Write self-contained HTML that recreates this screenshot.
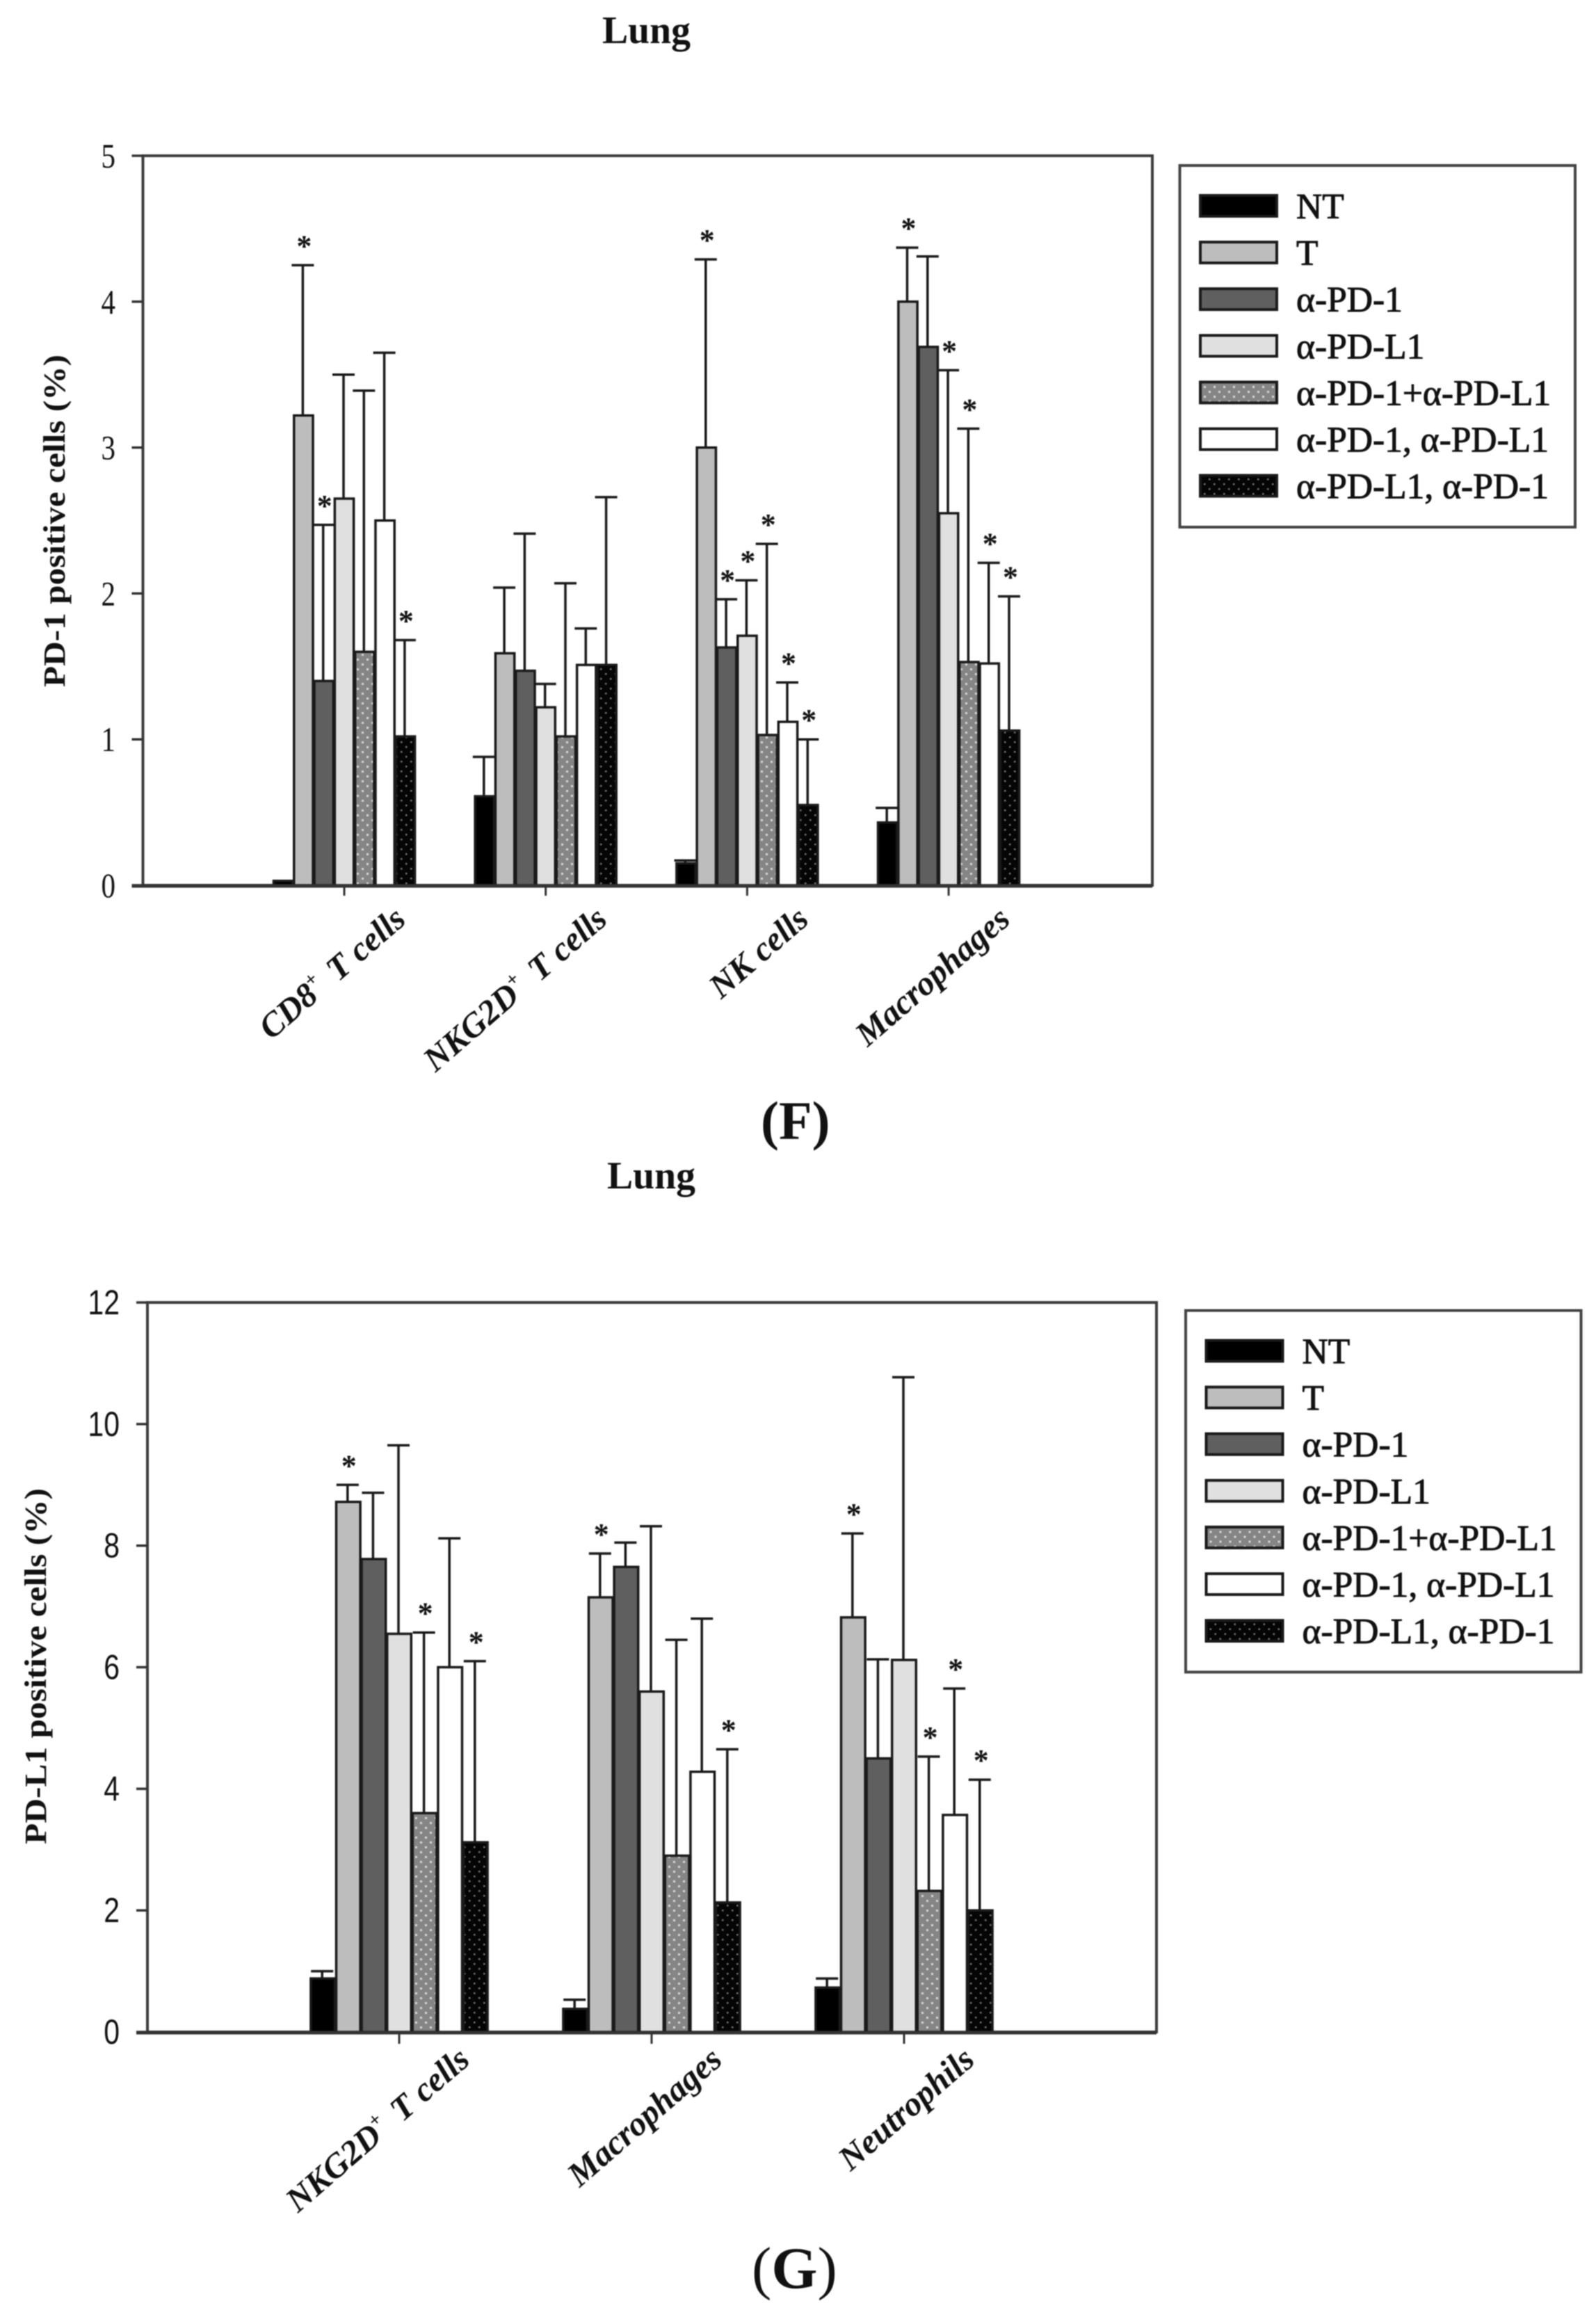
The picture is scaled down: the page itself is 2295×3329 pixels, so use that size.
<!DOCTYPE html>
<html>
<head>
<meta charset="utf-8">
<title>Lung PD-1 and PD-L1 positive cells</title>
<style>
html,body{margin:0;padding:0;background:#fff;}
svg{display:block;filter:blur(0.7px);}
text{fill:#111;}
.serif{font-family:"Liberation Serif",serif;}
.sans{font-family:"Liberation Sans",sans-serif;}
</style>
</head>
<body>
<svg id="figure" xmlns="http://www.w3.org/2000/svg" width="2295" height="3329" viewBox="0 0 2295 3329">
<defs>
<pattern id="dotsGrey" width="14" height="14" patternUnits="userSpaceOnUse">
<rect width="14" height="14" fill="#858585"/>
<rect x="2" y="2" width="3" height="3" fill="#d8d8d8"/>
<rect x="9" y="9" width="3" height="3" fill="#d8d8d8"/>
</pattern>
<pattern id="dotsBlack" width="14" height="14" patternUnits="userSpaceOnUse">
<rect width="14" height="14" fill="#050505"/>
<rect x="2" y="2" width="2.5" height="2.5" fill="#777"/>
<rect x="9" y="9" width="2.5" height="2.5" fill="#777"/>
</pattern>
</defs>
<text class="serif" x="866" y="62" font-size="56" font-weight="bold" textLength="127" lengthAdjust="spacingAndGlyphs">Lung</text>
<text class="serif" x="1094" y="1638" font-size="78" font-weight="bold">(F)</text>
<text class="serif" x="873" y="1709" font-size="56" font-weight="bold" textLength="127" lengthAdjust="spacingAndGlyphs">Lung</text>
<text class="serif" x="1081" y="3290" font-size="85">(<tspan font-weight="bold">G</tspan>)</text>
<text class="serif" transform="translate(93,749) rotate(-90)" text-anchor="middle" font-size="44" font-weight="bold" textLength="478" lengthAdjust="spacingAndGlyphs">PD-1 positive cells (%)</text>
<text class="serif" transform="translate(66,2396) rotate(-90)" text-anchor="middle" font-size="44" font-weight="bold" textLength="512" lengthAdjust="spacingAndGlyphs">PD-L1 positive cells (%)</text>
</svg>
<script>
const seriesNames = ['NT', 'T', 'α-PD-1', 'α-PD-L1', 'α-PD-1+α-PD-L1', 'α-PD-1, α-PD-L1', 'α-PD-L1, α-PD-1'];
const seriesFills = ['#000000', '#bdbdbd', '#5f5f5f', '#e0e0e0', 'url(#dotsGrey)', '#ffffff', 'url(#dotsBlack)'];

const fTicks = [0, 1, 2, 3, 4, 5];
const fCategories = [['CD8', 'T cells'], ['NKG2D', 'T cells'], ['NK cells', ''], ['Macrophages', '']];
const fSuperscript = [true, true, false, false];
const fMeans = [
  [0.03, 3.22, 1.40, 2.65, 1.60, 2.50, 1.02],
  [0.61, 1.59, 1.47, 1.22, 1.02, 1.51, 1.51],
  [0.15, 3.00, 1.63, 1.71, 1.03, 1.12, 0.55],
  [0.43, 4.00, 3.69, 2.55, 1.53, 1.52, 1.06]
];
const fUpper = [
  [null, 4.25, 2.47, 3.50, 3.39, 3.65, 1.68],
  [0.88, 2.04, 2.41, 1.38, 2.07, 1.76, 2.66],
  [0.17, 4.29, 1.96, 2.09, 2.34, 1.39, 1.00],
  [0.53, 4.37, 4.31, 3.53, 3.13, 2.21, 1.98]
];
const fStars = [
  [0, 1, 1, 0, 0, 0, 1],
  [0, 0, 0, 0, 0, 0, 0],
  [0, 1, 1, 1, 1, 1, 1],
  [0, 1, 0, 1, 1, 1, 1]
];

const gTicks = [0, 2, 4, 6, 8, 10, 12];
const gCategories = [['NKG2D', 'T cells'], ['Macrophages', ''], ['Neutrophils', '']];
const gSuperscript = [true, false, false];
const gMeans = [
  [0.88, 8.72, 7.78, 6.55, 3.60, 6.00, 3.12],
  [0.38, 7.15, 7.65, 5.60, 2.90, 4.28, 2.13],
  [0.73, 6.82, 4.50, 6.12, 2.32, 3.57, 2.00]
];
const gUpper = [
  [1.00, 9.00, 8.87, 9.65, 6.57, 8.12, 6.10],
  [0.53, 7.87, 8.05, 8.32, 6.45, 6.80, 4.65],
  [0.88, 8.20, 6.13, 10.77, 4.53, 5.65, 4.15]
];
const gStars = [
  [0, 1, 0, 0, 1, 0, 1],
  [0, 1, 0, 0, 0, 0, 1],
  [0, 1, 0, 0, 1, 1, 1]
];

const NS = 'http://www.w3.org/2000/svg';
const svg = document.getElementById('figure');

function mk(tag, parent, attrs) {
  const el = document.createElementNS(NS, tag);
  for (const k in attrs) el.setAttribute(k, attrs[k]);
  parent.appendChild(el);
  return el;
}

function drawChart(prefix, layout, ticks, categories, superscript, means, upper, stars) {
  const root = mk('g', svg, {});
  
  

  const maxTick = ticks[ticks.length - 1];
  const yScale = v => layout.y0 - (v / maxTick) * (layout.y0 - layout.yTop);
  const xBar = (c, s) => layout.firstTick + layout.step * c - layout.barW * 3.5 + layout.barW * s;

  // plot frame
  const frame = mk('rect', root, {x: layout.left, y: layout.yTop, width: layout.right - layout.left, height: layout.y0 - layout.yTop, fill: '#fff', stroke: '#3c3c3c', 'stroke-width': 4});
  
  

  // bars and error bars
  means.forEach((row, c) => {
    row.forEach((v, s) => {
      const x = xBar(c, s);
      const bar = mk('rect', root, {x: x + 1, y: yScale(v), width: layout.barW - 2, height: layout.y0 - yScale(v), fill: seriesFills[s], stroke: '#1a1a1a', 'stroke-width': 3.5});
      
      
      const up = upper[c][s];
      if (up !== null) {
        const cx = x + layout.barW / 2 - 1;
        const stem = mk('line', root, {x1: cx, x2: cx, y1: yScale(v), y2: yScale(up), stroke: '#1a1a1a', 'stroke-width': 3.5});
        
        
        const cap = mk('line', root, {x1: cx - 16, x2: cx + 16, y1: yScale(up), y2: yScale(up), stroke: '#1a1a1a', 'stroke-width': 3.5});
        
        
      }
      if (stars[c][s]) {
        const star = mk('text', root, {x: x + layout.barW / 2 + 1, y: yScale(up) - 13, 'text-anchor': 'middle', 'font-size': 44, class: 'serif', 'font-weight': 'bold'});
        star.textContent = '*';
        
        
      }
    });
  });

  // baseline redraw (heavy bottom axis)
  const base = mk('line', root, {x1: layout.left - 16, x2: layout.right, y1: layout.y0 + 1, y2: layout.y0 + 1, stroke: '#333', 'stroke-width': 5});
  
  

  // y ticks
  ticks.forEach(t => {
    const ty = yScale(t);
    const tick = mk('line', root, {x1: layout.left - 16, x2: layout.left, y1: ty, y2: ty, stroke: '#333', 'stroke-width': 3.5});
    
    
    const label = mk('text', root, {transform: 'translate(' + layout.tickTextX + ',' + (ty + 17) + ') scale(0.82,1)', 'text-anchor': 'end', 'font-size': 50, class: layout.tickClass});
    label.textContent = t;
    
    
  });

  // x ticks + labels
  categories.forEach((cat, c) => {
    const tx = layout.firstTick + layout.step * c;
    const tick = mk('line', root, {x1: tx, x2: tx, y1: layout.y0, y2: layout.y0 + layout.xTickLen, stroke: '#333', 'stroke-width': 3});
    
    
    const label = mk('text', root, {transform: 'translate(' + (tx + layout.labelDx) + ',' + (layout.y0 + layout.labelDy) + ') rotate(-41)', 'text-anchor': 'end', 'font-size': 49, 'font-weight': 'bold', 'font-style': 'italic', class: 'serif'});
    
    
    const first = mk('tspan', label, {});
    first.textContent = cat[0];
    if (superscript[c]) {
      const sup = mk('tspan', label, {dy: -20, 'font-size': 28});
      sup.textContent = '+ ';
      const rest = mk('tspan', label, {dy: 20});
      rest.textContent = '\u00a0' + cat[1];
    }
  });

  // legend
  const lg = mk('g', root, {transform: 'translate(' + layout.legendDx + ',' + layout.legendDy + ')'});
  
  
  const box = mk('rect', lg, {x: 1696.5, y: 238, width: 568.5, height: 520, fill: '#fff', stroke: '#444', 'stroke-width': 4});
  
  
  seriesNames.forEach((name, s) => {
    const rowY = 279 + s * 67.1;
    const sw = mk('rect', lg, {x: 1726, y: rowY + 2, width: 110, height: 30, fill: seriesFills[s], stroke: '#1a1a1a', 'stroke-width': 4});
    
    
    const txt = mk('text', lg, {x: 1864, y: rowY + 35, 'font-size': 51.5, class: 'serif', stroke: '#111', 'stroke-width': 1});
    txt.textContent = name;
    
    
  });
}

drawChart('chart-f', {
  y0: 1273, yTop: 224, left: 205.5, right: 1657, firstTick: 495, step: 289.7, barW: 29.3,
  tickTextX: 166, tickClass: 'serif', xTickLen: 15, labelDx: 91, labelDy: 53, legendDx: 0, legendDy: 0
}, fTicks, fCategories, fSuperscript, fMeans, fUpper, fStars);

drawChart('chart-g', {
  y0: 2922, yTop: 1873, left: 212, right: 1663, firstTick: 574, step: 363, barW: 36.6,
  tickTextX: 172, tickClass: 'sans', xTickLen: 17, labelDx: 104, labelDy: 44, legendDx: 8.5, legendDy: 1646.5
}, gTicks, gCategories, gSuperscript, gMeans, gUpper, gStars);
</script>
</body>
</html>
